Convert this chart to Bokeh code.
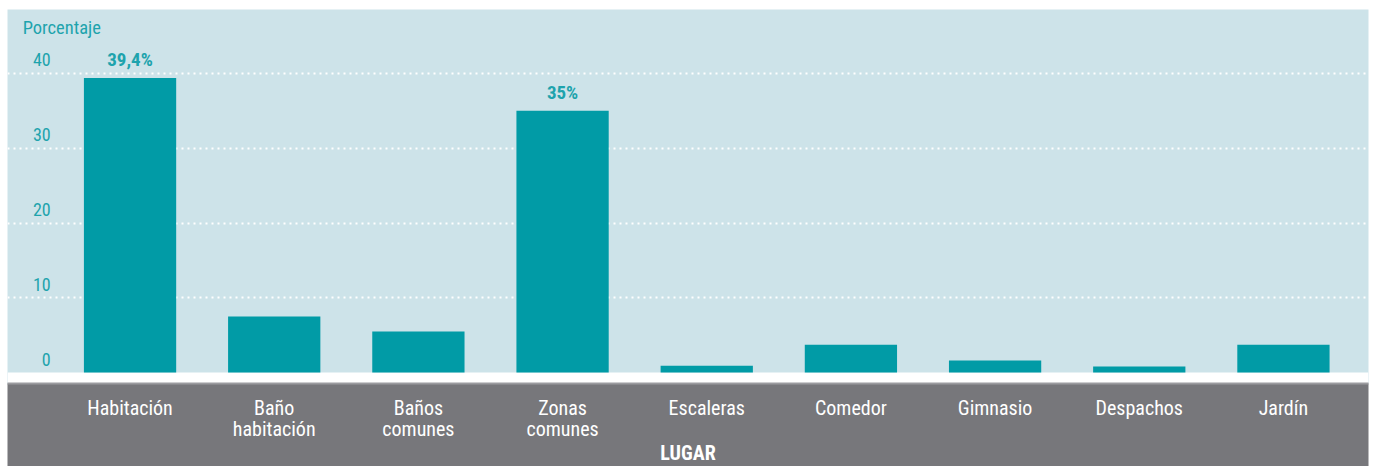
from bokeh.plotting import figure
from bokeh.models import Range1d, FixedTicker, BoxAnnotation, ColumnDataSource
from bokeh.core.properties import value
from bokeh.embed import file_html
from bokeh.resources import INLINE

categories = ["Habitación", "Baño\nhabitación", "Baños\ncomunes", "Zonas\ncomunes",
              "Escaleras", "Comedor", "Gimnasio", "Despachos", "Jardín"]
values = [39.4, 7.5, 5.5, 35.0, 0.9, 3.7, 1.6, 0.8, 3.7]
bar_labels = ["39,4%", "", "", "35%", "", "", "", "", ""]
y_ticks = [0, 10, 20, 30, 40]
y_tick_labels = ["0", "10", "20", "30", "40"]
y_title = "Porcentaje"
x_title = "LUGAR"

FONT = "'Roboto Condensed', 'DejaVu Sans Condensed', Roboto, sans-serif"
BLUE_BG = "#cde3e9"
TEAL = "#019ba6"
TEAL_TXT = "#1ea3ad"
GRAY = "#77777b"

xs = list(range(len(categories)))

p = figure(width=1373, height=466, output_backend="svg", toolbar_location=None,
           x_range=Range1d(-0.85, 8.59), y_range=Range1d(-1.47, 48.56),
           frame_width=1361, frame_height=374,
           min_border_left=7, min_border_right=5, min_border_top=9, min_border_bottom=83)
p.background_fill_color = BLUE_BG
p.border_fill_color = "white"
p.outline_line_color = None

# grid
p.xgrid.visible = False
p.ygrid.ticker = FixedTicker(ticks=y_ticks[1:])
p.ygrid.grid_line_color = "white"
p.ygrid.grid_line_width = 2
p.ygrid.grid_line_dash = "2 4"

# white gap below zero line
p.add_layout(BoxAnnotation(top=0, fill_color="white", fill_alpha=1, line_color=None, level="underlay"))

src = ColumnDataSource(dict(x=xs, v=values, lab=bar_labels))
p.vbar(x="x", top="v", bottom=0, width=0.64, source=src, fill_color=TEAL, line_color=None)
p.text(x="x", y="v", text="lab", source=src, text_align="center", text_baseline="bottom",
       y_offset=-7, text_font=value(FONT), text_font_style="bold", text_font_size="19px",
       text_color=TEAL_TXT)

# y tick labels inside plot
tsrc = ColumnDataSource(dict(y=y_ticks, t=y_tick_labels, x=[-0.55] * len(y_ticks)))
p.text(x="x", y="y", text="t", source=tsrc, text_align="right", text_baseline="bottom",
       y_offset=-7, text_font=value(FONT), text_font_size="18px", text_color=TEAL_TXT)
p.text(x=[-0.745], y=[48.56], text=[y_title], text_align="left", text_baseline="top",
       y_offset=7, text_font=value(FONT), text_font_size="18.5px", text_color=TEAL_TXT)

# axes
p.yaxis.visible = False
ax = p.xaxis[0]
ax.ticker = FixedTicker(ticks=xs)
ax.major_label_overrides = {i: c for i, c in enumerate(categories)}
ax.major_label_text_font = FONT
ax.major_label_text_font_size = "20px"
ax.major_label_text_color = "white"
ax.major_label_text_line_height = 0.88
ax.major_label_standoff = 6
ax.major_tick_line_color = None
ax.minor_tick_line_color = None
ax.axis_line_color = "#9b9b9f"
ax.axis_line_width = 2
ax.axis_label = x_title
ax.axis_label_text_font = FONT
ax.axis_label_text_font_style = "bold"
ax.axis_label_text_font_size = "20px"
ax.axis_label_text_color = "white"
ax.axis_label_standoff = -3
ax.background_fill_color = GRAY

open("out.html", "w").write(file_html(p, INLINE))
